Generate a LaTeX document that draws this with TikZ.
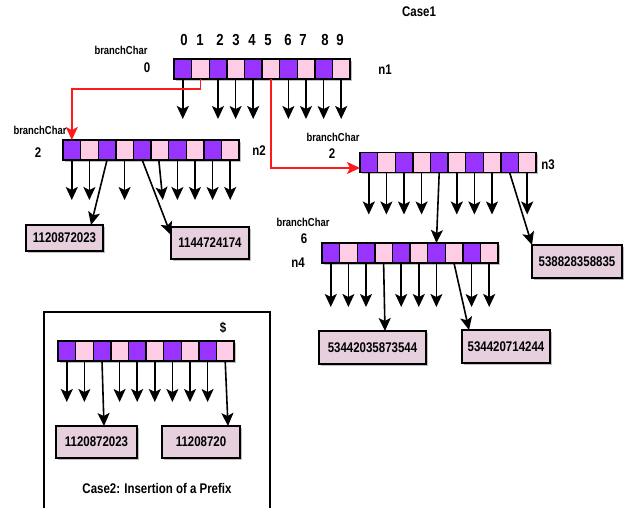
\documentclass[tikz,border=0pt]{standalone}
\usepackage{fontspec}
\setmainfont{Liberation Sans}[FakeStretch=0.82]
\usetikzlibrary{arrows.meta,calc,shadows}
\definecolor{cpurple}{HTML}{9933FF}
\definecolor{cpink}{HTML}{FFCCE6}
\definecolor{cbox}{HTML}{E6D0DE}
\definecolor{cred}{HTML}{FF1A1A}
\newcommand\mkrow[3]{%
  \foreach \i in {0,...,9}{%
    \pgfmathtruncatemacro\odd{mod(\i,2)}%
    \ifnum\odd=0 \def\cc{cpurple}\else\def\cc{cpink}\fi
    \node[cell, fill=\cc] (#1-\i) at ({#2+17.6*\i+8.8},#3) {};
  }}
\begin{document}
\begin{tikzpicture}[x=1pt,y=-1pt,
  shad/.style={drop shadow={shadow xshift=1.8pt, shadow yshift=-1.8pt, fill=black, opacity=0.25}},
  cell/.style={draw=black, line width=1.4pt, minimum width=17.6pt, minimum height=20pt, inner sep=0pt, outer sep=0pt, shad},
  arr/.style={line width=1.6pt, -{Stealth[length=13pt,width=12pt,inset=3pt]}},
  redarr/.style={draw=cred, line width=1.5pt, -{Stealth[length=13pt,width=12pt,inset=3pt]}},
  leaf/.style={draw=black, line width=1.6pt, fill=cbox, inner sep=0pt, outer sep=0pt, shad, font=\bfseries\fontsize{14}{14}\selectfont},
  lbl/.style={font=\bfseries\fontsize{14}{14}\selectfont, inner sep=0pt},
  small/.style={font=\bfseries\fontsize{11.5}{12}\selectfont, inner sep=0pt},
  digit/.style={font=\bfseries\fontsize{16}{16}\selectfont, inner sep=0pt}]
\useasboundingbox (0,0) rectangle (629,508);

% ---------------- titles and labels
\node[lbl] (case1) at (419,12) {Case1};

\foreach \d/\x in {0/184,1/200,2/220,3/236,4/252,5/268,6/288,7/303,8/325,9/340}
  \node[digit] (dg\d) at (\x,40) {\d};

\node[small] (bc1) at (121,50) {branchChar};
\node[lbl] (bv1) at (147,68) {0};
\node[lbl] (ln1) at (385,70) {n1};

\node[small] (bc2) at (40,130) {branchChar};
\node[lbl] (bv2) at (38,153) {2};
\node[lbl] (ln2) at (259,151) {n2};

\node[small] (bc3) at (333,137) {branchChar};
\node[lbl] (bv3) at (332,154) {2};
\node[lbl] (ln3) at (548,165) {n3};

\node[small] (bc4) at (303,222) {branchChar};
\node[lbl] (bv4) at (304,239) {6};
\node[lbl] (ln4) at (298,263) {n4};

% ---------------- arrays
\mkrow{n1}{174}{69}
\mkrow{n2}{63}{150}
\mkrow{n3}{360}{162.5}
\mkrow{n4}{322}{253}
\mkrow{c2}{58}{351}

% ---------------- leaf boxes
\node[leaf, minimum width=77pt, minimum height=26pt] (b1) at (64.5,238) {1120872023};
\node[leaf, minimum width=78pt, minimum height=32pt] (b2) at (210,243) {1144724174};
\node[leaf, minimum width=90pt, minimum height=33pt] (b3) at (577,261.5) {538828358835};
\node[leaf, minimum width=107pt, minimum height=33pt] (b4) at (372.5,347.5) {53442035873544};
\node[leaf, minimum width=88pt, minimum height=33pt] (b5) at (506,346.5) {534420714244};
\node[leaf, minimum width=81pt, minimum height=32pt] (c2b1) at (96.5,442) {1120872023};
\node[leaf, minimum width=78pt, minimum height=32pt] (c2b2) at (201,442) {11208720};

% ---------------- n1 pointers
\foreach \i in {0,2,3,4,6,7,8,9}
  \draw[arr] (n1-\i.south) -- ([yshift=-40pt]n1-\i.south);
\draw[redarr] (n1-1.south) |- ([yshift=-10pt]n1-1.south -| n2-0.north) -- (n2-0.north);
\draw[redarr] (n1-5.south) |- ([yshift=-5.5pt]n3-0.west);

% ---------------- n2 pointers
\foreach \i in {0,1,3,6,7,8,9}
  \draw[arr] (n2-\i.south) -- ([yshift=-40pt]n2-\i.south);
\draw[arr] ([xshift=-1pt]n2-5.south) -- ([xshift=3pt,yshift=-40pt]n2-5.south);
\draw[arr] (n2-2.south) -- ([xshift=-12pt]b1.north east);
\draw[arr] (n2-4.south) -- ([yshift=-8pt]b2.north west);

% ---------------- n3 pointers
\foreach \i in {0,1,2,3,5,6,7,9}
  \draw[arr] (n3-\i.south) -- ([yshift=-42pt]n3-\i.south);
\draw[arr] (n3-4.south) -- (n4-6.north);
\draw[arr] (n3-8.south) -- (b3.north west);

% ---------------- n4 pointers
\foreach \i in {0,1,2,4,5,6,8,9}
  \draw[arr] (n4-\i.south) -- ([yshift=-44pt]n4-\i.south);
\draw[arr] (n4-3.south) -- ([xshift=12.5pt]b4.north);
\draw[arr] (n4-7.south) -- ([xshift=7pt]b5.north west);

% ---------------- case 2
\draw[line width=1.3pt] (44,508) -- (44,312) -- (270,312) -- (270,508);
\node[lbl] (dollar) at (223,328) {\$};
\foreach \i in {0,1,3,4,5,6,7,8}
  \draw[arr] (c2-\i.south) -- ([yshift=-41pt]c2-\i.south);
\draw[arr] (c2-2.south) -- ([xshift=7.5pt]c2b1.north);
\draw[arr] (c2-9.south) -- ([xshift=-12pt]c2b2.north east);
\node[lbl] (case2) at (157,488) {Case2: Insertion of a Prefix};
\end{tikzpicture}
\end{document}
